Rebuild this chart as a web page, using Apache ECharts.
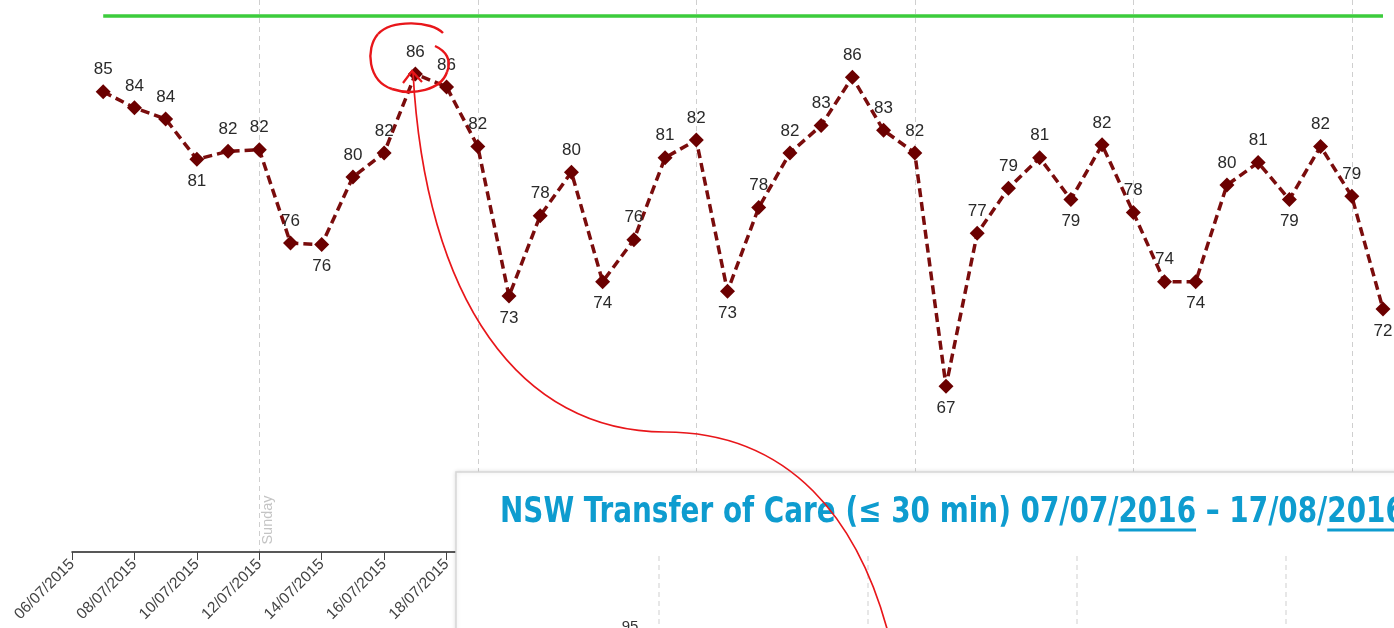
<!DOCTYPE html>
<html>
<head>
<meta charset="utf-8">
<script src="https://cdn.jsdelivr.net/npm/echarts@6/dist/echarts.min.js"></script>
<style>
html,body{margin:0;padding:0;background:#fff;}
#c{width:1394px;height:628px;}
</style>
</head>
<body>
<div id="c"></div>
<script>
var categories = ['06/07/2015','07/07/2015','08/07/2015','09/07/2015','10/07/2015','11/07/2015','12/07/2015',
'13/07/2015','14/07/2015','15/07/2015','16/07/2015','17/07/2015','18/07/2015','19/07/2015',
'20/07/2015','21/07/2015','22/07/2015','23/07/2015','24/07/2015','25/07/2015','26/07/2015',
'27/07/2015','28/07/2015','29/07/2015','30/07/2015','31/07/2015','01/08/2015','02/08/2015',
'03/08/2015','04/08/2015','05/08/2015','06/08/2015','07/08/2015','08/08/2015','09/08/2015',
'10/08/2015','11/08/2015','12/08/2015','13/08/2015','14/08/2015','15/08/2015','16/08/2015','17/08/2015'];

var transferOfCare = [null,85.3,84.3,83.6,81.1,81.6,81.7,75.9,75.8,80.0,81.5,86.4,85.6,81.9,
72.6,77.6,80.3,73.5,76.1,81.2,82.3,72.9,78.1,81.5,83.2,86.2,82.9,81.5,
67.0,76.5,79.3,81.2,78.6,82.0,77.8,73.5,73.5,79.5,80.9,78.6,81.9,78.8,71.8];

var target = [null,90,90,90,90,90,90,90,90,90,90,90,90,90,90,90,90,90,90,90,90,90,
90,90,90,90,90,90,90,90,90,90,90,90,90,90,90,90,90,90,90,90,90];

var labelBelow = [4,8,14,17,21,28,32,36,39,42];
var sundays = ['12/07/2015','19/07/2015','26/07/2015','02/08/2015','09/08/2015','16/08/2015'];
var lastVisibleTickLabel = 12;

var insetTitle = 'NSW Transfer of Care (\u2264 30 min) 07/07/2016 \u2013 17/08/2016';
var insetTitleA = 'NSW Transfer of Care (\u2264 30 min) 07/07/';
var insetTitleB = 'NSW Transfer of Care (\u2264 30 min) 07/07/2016 \u2013 17/08/';
var insetYLabel = '95';

var chart = echarts.init(document.getElementById('c'));

var lineData = transferOfCare.map(function (v, i) {
  if (v === null) return '-';
  return {
    value: v,
    label: { position: labelBelow.indexOf(i) >= 0 ? 'bottom' : 'top' }
  };
});

var titleFont = 'bold 35px "Liberation Sans Narrow", "DejaVu Sans Condensed", Arial, sans-serif';
var titleScale = 0.885;
var mctx = document.createElement('canvas').getContext('2d');
mctx.font = titleFont;
var titleX = 500;
var wA = mctx.measureText(insetTitleA).width * titleScale;
var wB = mctx.measureText(insetTitleB).width * titleScale;
var w2016 = mctx.measureText('2016').width * titleScale;

var red = '#e8161a';
function curve(x1, y1, c1x, c1y, c2x, c2y, x2, y2, w) {
  return {
    type: 'bezierCurve', z: 60,
    shape: { x1: x1, y1: y1, cpx1: c1x, cpy1: c1y, cpx2: c2x, cpy2: c2y, x2: x2, y2: y2 },
    style: { fill: null, stroke: red, lineWidth: w }
  };
}
function vdash(x) {
  return { type: 'line', z: 51, shape: { x1: x, y1: 556, x2: x, y2: 640 }, style: { stroke: '#cfcfcf', lineWidth: 1, lineDash: [5, 4] } };
}

var option = {
  animation: false,
  backgroundColor: '#ffffff',
  grid: { left: 72, right: 11, top: 0, bottom: 76 },
  xAxis: {
    type: 'category',
    data: categories,
    boundaryGap: false,
    axisLine: { lineStyle: { color: '#222', width: 1.5 } },
    axisTick: { show: true, interval: 1, length: 8, lineStyle: { color: '#444' } },
    axisLabel: {
      interval: function (index) { return index % 2 === 0 && index <= lastVisibleTickLabel; },
      rotate: 45, fontSize: 15.5, color: '#444', fontFamily: 'Liberation Sans, Arial, sans-serif', margin: 10
    },
    splitLine: {
      show: true,
      interval: function (index, value) { return sundays.indexOf(value) >= 0; },
      lineStyle: { color: '#cfcfcf', type: [5, 4], width: 1 }
    }
  },
  yAxis: {
    type: 'value', min: 56.7, max: 91, show: false,
    splitLine: { show: false }
  },
  series: [
    {
      name: 'Target',
      type: 'line',
      data: target,
      symbol: 'none',
      lineStyle: { color: '#3ccc3c', width: 3.5 },
      z: 2
    },
    {
      name: 'Transfer of Care',
      type: 'line',
      data: lineData,
      symbol: 'diamond',
      symbolSize: 15,
      itemStyle: { color: '#6b0000' },
      lineStyle: { color: '#7a0c0c', width: 3.5, type: [9, 5] },
      label: {
        show: true,
        distance: 6,
        fontSize: 17,
        color: '#2a2a2a',
        fontFamily: 'Liberation Sans, Arial, sans-serif',
        formatter: function (p) { return Math.round(p.value); }
      },
      z: 3
    }
  ],
  graphic: [
    {
      type: 'text', x: 268, y: 520, rotation: Math.PI / 2, z: 5,
      style: { text: 'Sunday', fill: '#c4c4c4', font: '14.5px "Liberation Sans", Arial, sans-serif', textAlign: 'center', textVerticalAlign: 'middle' }
    },
    {
      type: 'rect', z: 50,
      shape: { x: 456, y: 472, width: 1000, height: 220 },
      style: { fill: '#ffffff', stroke: '#d6d6d6', lineWidth: 1.5, shadowBlur: 4, shadowColor: 'rgba(0,0,0,0.12)' }
    },
    {
      type: 'text', x: titleX, y: 513, z: 51, scaleX: titleScale,
      style: { text: insetTitle, fill: '#0e9ccf', font: titleFont, textAlign: 'left', textVerticalAlign: 'middle' }
    },
    {
      type: 'line', z: 51,
      shape: { x1: titleX + wA, y1: 530, x2: titleX + wA + w2016, y2: 530 },
      style: { stroke: '#0e9ccf', lineWidth: 3 }
    },
    {
      type: 'line', z: 51,
      shape: { x1: titleX + wB, y1: 530, x2: titleX + wB + w2016, y2: 530 },
      style: { stroke: '#0e9ccf', lineWidth: 3 }
    },
    vdash(659), vdash(868), vdash(1077), vdash(1286),
    {
      type: 'text', x: 630, y: 619, z: 51,
      style: { text: insetYLabel, fill: '#333', font: '15px "Liberation Sans", Arial, sans-serif', textAlign: 'center', textVerticalAlign: 'top' }
    },
    curve(443, 33, 432, 21, 392, 19, 378, 34, 2.4),
    curve(378, 34, 365, 49, 368, 81, 392, 89, 2.4),
    curve(392, 89, 413, 96, 441, 90, 447, 72, 2.4),
    curve(447, 72, 452, 60, 446, 51, 435, 46, 2.4),
    curve(413, 72, 425, 300, 520, 432, 665, 432, 1.7),
    curve(665, 432, 790, 432, 860, 520, 890, 640, 1.7),
    {
      type: 'polyline', z: 60,
      shape: { points: [[403, 83], [412, 71], [422, 82]] },
      style: { fill: null, stroke: red, lineWidth: 2.2 }
    }
  ]
};

chart.setOption(option);
</script>
</body>
</html>
